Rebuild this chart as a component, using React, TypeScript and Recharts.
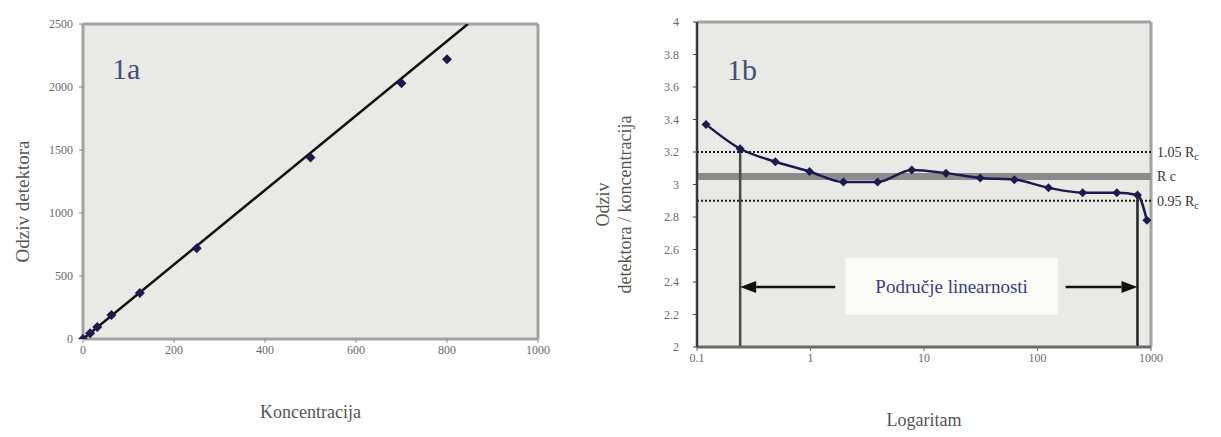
import React from 'react'
import {
  ComposedChart,
  Line,
  Scatter,
  XAxis,
  YAxis,
  ZAxis,
  CartesianGrid,
  ReferenceLine,
  ReferenceArea,
} from 'recharts'

// chart 1a: detector response vs concentration
const concA = [0, 15.6, 31.3, 62.5, 125, 250, 500, 700, 800]
const respA = [0, 45, 95, 190, 365, 720, 1440, 2030, 2220]
const fitX = [0, 846]
const fitY = [0, 2500]
const ticksAX = [0, 200, 400, 600, 800, 1000]
const ticksAY = [0, 500, 1000, 1500, 2000, 2500]

// chart 1b: response / concentration on a log axis
const concB = [0.12, 0.24, 0.49, 0.98, 1.95, 3.9, 7.8, 15.6, 31.3, 62.5, 125, 250, 500, 760, 920]
const ratioB = [3.37, 3.22, 3.14, 3.08, 3.015, 3.015, 3.09, 3.07, 3.04, 3.03, 2.98, 2.95, 2.95, 2.935, 2.78]
const ticksBX = [0.1, 1, 10, 100, 1000]
const ticksBY = [2, 2.2, 2.4, 2.6, 2.8, 3, 3.2, 3.4, 3.6, 3.8, 4]
const rc = 3.05
const rcHigh = 3.2
const rcLow = 2.9
const linStart = 0.24
const linEnd = 760
const linStartTop = 3.22
const linEndTop = 2.935
const arrowY = 2.37
const arrowLeft = [1.65, linStart]
const arrowRight = [177, linEnd]
const boxX = [2.03, 151]
const boxY = [2.2, 2.55]

const pointsA = concA.map((x, i) => ({ x, y: respA[i] }))
const fitA = fitX.map((x, i) => ({ x, y: fitY[i] }))
const pointsB = concB.map((x, i) => ({ x, y: ratioB[i] }))

const serif = '"Liberation Serif", "DejaVu Serif", serif'
const navy = '#1b1b50'
const tickStyle = { fontSize: 12, fill: '#6a6a6a', fontFamily: serif }

const Diamond = ({ cx, cy, r = 4.5 }: { cx?: number; cy?: number; r?: number }) => {
  if (cx == null || cy == null) return null
  return (
    <polygon
      points={`${cx},${cy - r} ${cx + r},${cy} ${cx},${cy + r} ${cx - r},${cy}`}
      fill={navy}
    />
  )
}

const ArrowShape = (props: any) => {
  const { x1, y1, x2, y2 } = props
  if (x1 == null) return null
  const dir = x2 > x1 ? 1 : -1
  const len = 16
  const half = 6
  return (
    <g>
      <line x1={x1} y1={y1} x2={x2 - dir * len} y2={y2} stroke="#111" strokeWidth={2.5} />
      <polygon
        points={`${x2},${y2} ${x2 - dir * len},${y2 - half} ${x2 - dir * len},${y2 + half}`}
        fill="#111"
      />
    </g>
  )
}

const RcLabel = ({ viewBox, main, sub }: any) => {
  if (!viewBox) return null
  const x = viewBox.x + viewBox.width + 6
  const y = viewBox.y + 5
  return (
    <text x={x} y={y} fontFamily={serif} fontSize={14} fill="#333">
      {main}
      <tspan fontSize={10} dy={3}>
        {sub}
      </tspan>
    </text>
  )
}

const VerticalTitle = ({ viewBox, lines, cx, size }: any) => {
  if (!viewBox) return null
  const cy = viewBox.y + viewBox.height / 2 + 20
  return (
    <g>
      {lines.map((t: string, i: number) => {
        const x = cx + i * 22
        return (
          <text
            key={t}
            x={x}
            y={cy}
            transform={`rotate(-90 ${x} ${cy})`}
            textAnchor="middle"
            dominantBaseline="central"
            fontFamily={serif}
            fontSize={size}
            fill="#555"
          >
            {t}
          </text>
        )
      })}
    </g>
  )
}

export default function App() {
  return (
    <div style={{ position: 'absolute', left: 0, top: 0, width: 1221, height: 437, background: '#fff' }}>
      <div style={{ position: 'absolute', left: 0, top: 0 }}>
        <ComposedChart width={560} height={437} margin={{ top: 24, right: 22, bottom: 68, left: 23 }}>
          <CartesianGrid fill="#e9e9e5" horizontal={false} vertical={false} />
          <XAxis
            type="number"
            dataKey="x"
            domain={[0, 1000]}
            ticks={ticksAX}
            height={30}
            tick={tickStyle}
            tickSize={4}
            axisLine={{ stroke: '#a2a2a2', strokeWidth: 3 }}
            tickLine={{ stroke: '#888' }}
            label={{ value: 'Koncentracija', position: 'bottom', offset: 36, fontSize: 18, fill: '#555', fontFamily: serif }}
          />
          <YAxis
            type="number"
            dataKey="y"
            domain={[0, 2500]}
            ticks={ticksAY}
            allowDataOverflow
            width={60}
            tick={{ ...tickStyle, dx: -4 }}
            tickSize={4}
            axisLine={{ stroke: '#a2a2a2', strokeWidth: 3 }}
            tickLine={{ stroke: '#888' }}
            label={<VerticalTitle lines={['Odziv detektora']} cx={22} size={19} />}
          />
          <ZAxis range={[60, 60]} />
          <ReferenceLine y={2500} stroke="#a2a2a2" strokeWidth={3} />
          <ReferenceLine x={1000} stroke="#a2a2a2" strokeWidth={3} />
          <Line
            data={fitA}
            dataKey="y"
            type="linear"
            stroke="#111"
            strokeWidth={2.5}
            dot={false}
            isAnimationActive={false}
          />
          <Scatter
            data={pointsA}
            dataKey="y"
            shape={(p: any) => <Diamond cx={p.cx} cy={p.cy} r={5} />}
            isAnimationActive={false}
          />
          <text x={112} y={79} fontFamily={serif} fontSize={30} fill="#44507a">
            1a
          </text>
        </ComposedChart>
      </div>

      <div style={{ position: 'absolute', left: 560, top: 0 }}>
        <ComposedChart width={661} height={437} margin={{ top: 22, right: 70, bottom: 60, left: 77 }}>
          <CartesianGrid fill="#e9e9e5" horizontal={false} vertical={false} />
          <XAxis
            type="number"
            dataKey="x"
            scale="log"
            domain={[0.1, 1000]}
            ticks={ticksBX}
            allowDataOverflow
            height={30}
            tick={tickStyle}
            tickSize={4}
            axisLine={{ stroke: '#6a6a6a', strokeWidth: 3 }}
            tickLine={{ stroke: '#666' }}
            label={{ value: 'Logaritam', position: 'bottom', offset: 36, fontSize: 18, fill: '#555', fontFamily: serif }}
          />
          <YAxis
            type="number"
            dataKey="y"
            domain={[2, 4]}
            ticks={ticksBY}
            allowDataOverflow
            width={60}
            tick={{ ...tickStyle, dx: -12 }}
            tickSize={4}
            axisLine={{ stroke: '#3a3a3a', strokeWidth: 2.5 }}
            tickLine={{ stroke: '#444' }}
            label={<VerticalTitle lines={['Odziv', 'detektora / koncentracija']} cx={43} size={18} />}
          />
          <ReferenceLine y={4} stroke="#a2a2a2" strokeWidth={3} />
          <ReferenceLine x={1000} stroke="#a2a2a2" strokeWidth={3} />
          <ReferenceLine y={rc} stroke="#8c8c8c" strokeWidth={7} label={<RcLabel main="R c" sub="" />} />
          <ReferenceLine
            y={rcHigh}
            stroke="#1a1a1a"
            strokeWidth={2}
            strokeDasharray="2 2"
            label={<RcLabel main="1.05 R" sub="c" />}
          />
          <ReferenceLine
            y={rcLow}
            stroke="#1a1a1a"
            strokeWidth={2}
            strokeDasharray="2 2"
            label={<RcLabel main="0.95 R" sub="c" />}
          />
          <ReferenceLine
            segment={[{ x: linStart, y: 2 }, { x: linStart, y: linStartTop }]}
            stroke="#4a4a4a"
            strokeWidth={2.5}
          />
          <ReferenceLine
            segment={[{ x: linEnd, y: 2 }, { x: linEnd, y: linEndTop }]}
            stroke="#222"
            strokeWidth={2.5}
          />
          <ReferenceLine
            segment={[{ x: arrowLeft[0], y: arrowY }, { x: arrowLeft[1], y: arrowY }]}
            shape={ArrowShape}
          />
          <ReferenceLine
            segment={[{ x: arrowRight[0], y: arrowY }, { x: arrowRight[1], y: arrowY }]}
            shape={ArrowShape}
          />
          <ReferenceArea
            x1={boxX[0]}
            x2={boxX[1]}
            y1={boxY[0]}
            y2={boxY[1]}
            fill="#fbfbf8"
            fillOpacity={1}
            stroke="none"
            label={{ value: 'Područje linearnosti', position: 'center', fontSize: 19, fill: '#3b3b85', fontFamily: serif }}
          />
          <Line
            data={pointsB}
            dataKey="y"
            type="monotone"
            stroke={navy}
            strokeWidth={2.5}
            dot={(p: any) => <Diamond key={`d${p.index}`} cx={p.cx} cy={p.cy} r={4.5} />}
            isAnimationActive={false}
          />
          <text x={167} y={80} fontFamily={serif} fontSize={30} fill="#44507a">
            1b
          </text>
        </ComposedChart>
      </div>
    </div>
  )
}
